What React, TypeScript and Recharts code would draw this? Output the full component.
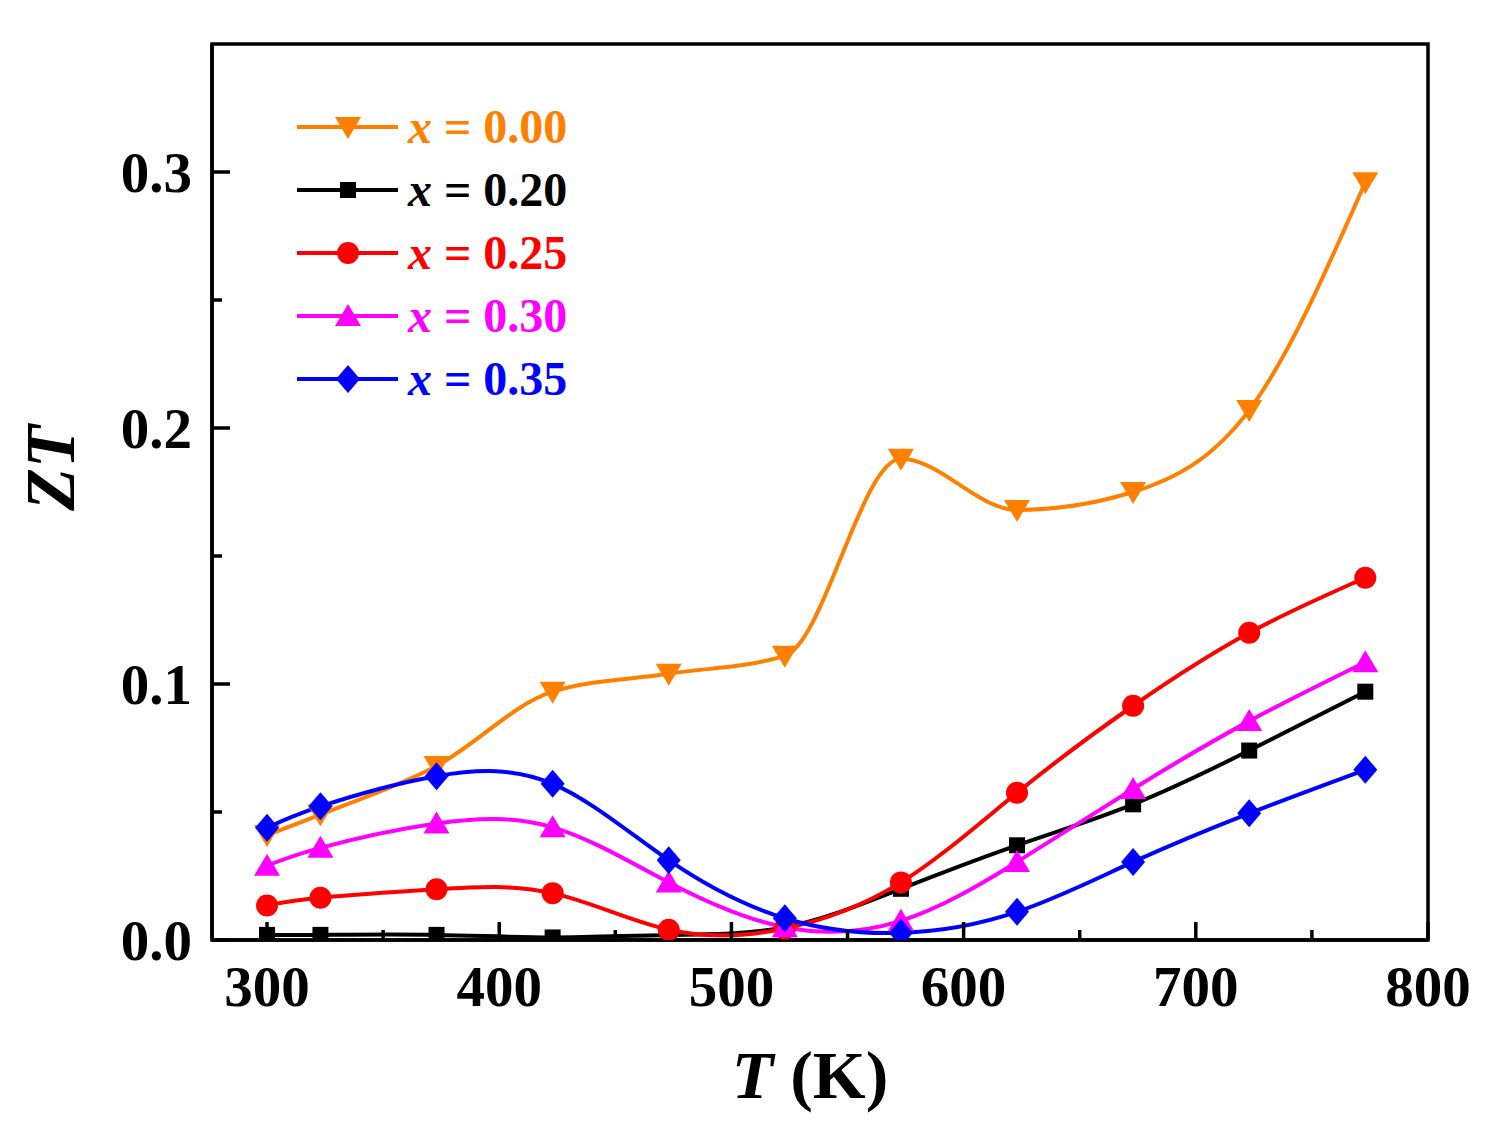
import React from 'react';
import { LineChart, Line, XAxis, YAxis, ReferenceArea } from 'recharts';

// temperatures (K)
const temps = [300, 323, 373, 423, 473, 523, 573, 623, 673, 723, 773];

// ZT per composition
const zt000 = [0.041, 0.049, 0.068, 0.097, 0.104, 0.111, 0.188, 0.168, 0.175, 0.207, 0.296];
const zt020 = [0.002, 0.002, 0.002, 0.001, 0.002, 0.005, 0.02, 0.037, 0.053, 0.074, 0.097];
const zt025 = [0.0135, 0.0165, 0.0198, 0.0183, 0.004, 0.0045, 0.0225, 0.0575, 0.0915, 0.12, 0.1415];
const zt030 = [0.029, 0.036, 0.0455, 0.044, 0.0225, 0.005, 0.0075, 0.0305, 0.059, 0.0855, 0.1085];
const zt035 = [0.0438, 0.0522, 0.064, 0.061, 0.0312, 0.0085, 0.0028, 0.011, 0.0305, 0.0495, 0.0665];

const xTicks = [300, 350, 400, 450, 500, 550, 600, 650, 700, 750, 800];
const yTicks = [0, 0.05, 0.1, 0.15, 0.2, 0.25, 0.3];

const series = [
  { key: 'a', label: '0.00', color: '#FF8000', shape: 'down', curve: 'monotone', values: zt000 },
  { key: 'b', label: '0.20', color: '#000000', shape: 'square', curve: 'natural', values: zt020 },
  { key: 'c', label: '0.25', color: '#FF0000', shape: 'circle', curve: 'natural', values: zt025 },
  { key: 'd', label: '0.30', color: '#FF00FF', shape: 'up', curve: 'natural', values: zt030 },
  { key: 'e', label: '0.35', color: '#0000FF', shape: 'diamond', curve: 'natural', values: zt035 },
];

const data = temps.map((t, i) => {
  const row: any = { t };
  series.forEach((s) => (row[s.key] = s.values[i]));
  return row;
});

const FONT = '"Liberation Serif", "Times New Roman", serif';

function Marker({ cx, cy, shape, color }: any) {
  if (cx == null || cy == null) return null;
  switch (shape) {
    case 'down':
      return <polygon points={`${cx - 13},${cy - 10} ${cx + 13},${cy - 10} ${cx},${cy + 12}`} fill={color} />;
    case 'up':
      return <polygon points={`${cx - 13},${cy + 10} ${cx + 13},${cy + 10} ${cx},${cy - 12}`} fill={color} />;
    case 'square':
      return <rect x={cx - 8} y={cy - 8} width={16} height={16} fill={color} />;
    case 'circle':
      return <circle cx={cx} cy={cy} r={11} fill={color} />;
    case 'diamond':
      return <polygon points={`${cx},${cy - 14} ${cx + 12},${cy} ${cx},${cy + 14} ${cx - 12},${cy}`} fill={color} />;
    default:
      return null;
  }
}

const XTick = ({ x, y, payload }: any) => {
  const major = payload.value % 100 === 0;
  return (
    <g>
      <line x1={x} y1={y} x2={x} y2={y - (major ? 18 : 10)} stroke="#000" strokeWidth={3.5} />
      {major && (
        <text x={x} y={y + 66} textAnchor="middle" fontFamily={FONT} fontWeight="bold" fontSize={57} fill="#000">
          {payload.value}
        </text>
      )}
    </g>
  );
};

const YTick = ({ x, y, payload }: any) => {
  const major = Math.round(payload.value * 100) % 10 === 0;
  return (
    <g>
      <line x1={x} y1={y} x2={x + (major ? 18 : 10)} y2={y} stroke="#000" strokeWidth={3.5} />
      {major && (
        <text x={x - 20} y={y + 20} textAnchor="end" fontFamily={FONT} fontWeight="bold" fontSize={57} fill="#000">
          {payload.value.toFixed(1)}
        </text>
      )}
    </g>
  );
};

// legend drawn as an overlay so it does not take room from the plot
const LegendBox = () => (
  <svg width={340} height={330} style={{ position: 'absolute', left: 290, top: 95 }}>
    {series.map((s, i) => {
      const y = 32 + i * 63;
      return (
        <g key={s.key}>
          <line x1={7} y1={y} x2={108} y2={y} stroke={s.color} strokeWidth={4} />
          <Marker cx={58} cy={y} shape={s.shape} color={s.color} />
          <text x={118} y={y + 16} fontFamily={FONT} fontWeight="bold" fontSize={48} fill={s.color}>
            <tspan fontStyle="italic">x</tspan> = {s.label}
          </text>
        </g>
      );
    })}
  </svg>
);

export default function App() {
  return (
    <div style={{ position: 'absolute', left: 0, top: 0, width: 1490, height: 1130, background: '#fff' }}>
      <LineChart width={1490} height={1130} data={data} margin={{ top: 44, right: 62, bottom: 0, left: 0 }}>
        <XAxis
          dataKey="t"
          type="number"
          domain={[276.3, 800]}
          ticks={xTicks}
          interval={0}
          height={190}
          tickSize={0}
          tickMargin={0}
          tickLine={false}
          axisLine={{ stroke: '#000', strokeWidth: 3.5 }}
          tick={<XTick />}
          allowDataOverflow
          label={{
            content: (p: any) => {
              const vb = p.viewBox;
              return (
                <text x={vb.x + vb.width / 2 - 10} y={vb.y + 158} textAnchor="middle" fontFamily={FONT} fontWeight="bold" fontSize={68} fill="#000">
                  <tspan fontStyle="italic">T</tspan> (K)
                </text>
              );
            },
          }}
        />
        <YAxis
          type="number"
          domain={[0, 0.35]}
          ticks={yTicks}
          interval={0}
          width={212}
          tickSize={0}
          tickMargin={0}
          tickLine={false}
          axisLine={{ stroke: '#000', strokeWidth: 3.5 }}
          tick={<YTick />}
          allowDataOverflow
          label={{
            content: (p: any) => {
              const vb = p.viewBox;
              const cy = vb.y + 424;
              return (
                <text x={74} y={cy} transform={`rotate(-90, 74, ${cy})`} textAnchor="middle" fontFamily={FONT} fontWeight="bold" fontStyle="italic" fontSize={70} fill="#000">
                  ZT
                </text>
              );
            },
          }}
        />
        <ReferenceArea x1={276.3} x2={800} y1={0} y2={0.35} fill="none" fillOpacity={0} stroke="#000" strokeWidth={3.5} />
        {series.map((s) => (
          <Line
            key={s.key}
            type={s.curve as any}
            dataKey={s.key}
            stroke={s.color}
            strokeWidth={4}
            isAnimationActive={false}
            dot={(p: any) => <Marker key={`${s.key}-${p.index}`} cx={p.cx} cy={p.cy} shape={s.shape} color={s.color} />}
            activeDot={false}
          />
        ))}
      </LineChart>
      <LegendBox />
    </div>
  );
}
